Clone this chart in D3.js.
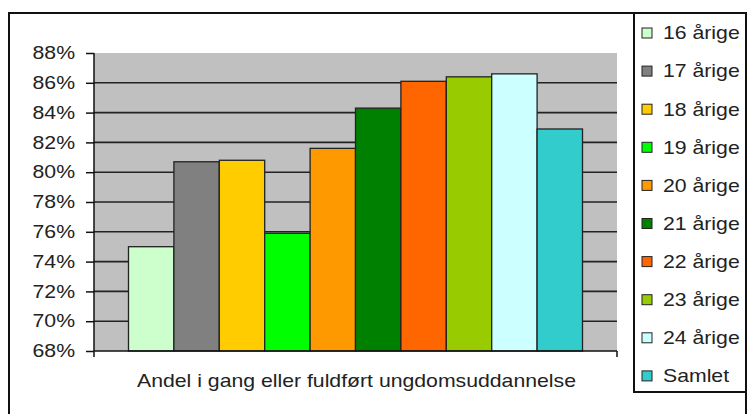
<!DOCTYPE html>
<html>
<head>
<meta charset="utf-8">
<script src="https://cdn.jsdelivr.net/npm/d3@7"></script>
<style>
  body { margin:0; background:#fff; }
  svg text { font-family: Arial, "Liberation Sans", sans-serif; fill:#222; }
</style>
</head>
<body>
<svg id="chart" width="750" height="414"></svg>
<script>
const series = ["16 årige","17 årige","18 årige","19 årige","20 årige","21 årige","22 årige","23 årige","24 årige","Samlet"];
const values = [75.0, 80.7, 80.8, 75.9, 81.6, 84.3, 86.1, 86.4, 86.6, 82.9];
const colors = ["#CCFFCC","#808080","#FFCC00","#00FF00","#FF9900","#008000","#FF6600","#99CC00","#CCFFFF","#33CCCC"];
const yTicks = [68,70,72,74,76,78,80,82,84,86,88];
const category = "Andel i gang eller fuldført ungdomsuddannelse";

const P = { left:94, right:617, top:53, bottom:351 };
const SX = 1.18; // text in the picture is a bit stretched sideways
const svg = d3.select('#chart');

// outer frame
svg.append('rect').attr('x',9).attr('y',13).attr('width',737).attr('height',410)
  .attr('fill','none').attr('stroke','#111').attr('stroke-width',2);

const y = d3.scaleLinear().domain([68,88]).range([P.bottom, P.top]);
const gap = 34.5;
const x = d3.scaleBand().domain(series).range([P.left+gap, P.right-gap]).padding(0);

// plot background
svg.append('rect').attr('x',P.left).attr('y',P.top)
  .attr('width',P.right-P.left).attr('height',P.bottom-P.top).attr('fill','#C0C0C0');

// gridlines
svg.append('g').selectAll('line').data(yTicks.slice(1,-1)).join('line')
  .attr('x1',P.left).attr('x2',P.right)
  .attr('y1',d=>y(d)).attr('y2',d=>y(d))
  .attr('stroke','#222').attr('stroke-width',1.6);

// bars
svg.append('g').selectAll('rect').data(values).join('rect')
  .attr('x',(d,i)=>x(series[i]))
  .attr('y',d=>y(d))
  .attr('width',x.bandwidth())
  .attr('height',d=>P.bottom-y(d))
  .attr('fill',(d,i)=>colors[i])
  .attr('stroke','#222').attr('stroke-width',1.3);

// y axis
const yAxis = svg.append('g').attr('transform',`translate(${P.left},0)`)
  .call(d3.axisLeft(y).tickValues(yTicks).tickSize(8).tickFormat(d=>d+'%'));
yAxis.select('.domain').attr('stroke','#111').attr('stroke-width',1.5).attr('d',`M0,${P.top}V${P.bottom+6}`);
yAxis.selectAll('.tick line').attr('stroke','#111').attr('stroke-width',1.5);
yAxis.selectAll('text').attr('font-size',18).attr('fill','#222')
  .attr('x',-19/SX).attr('transform',`scale(${SX},1)`);

// x axis
svg.append('line').attr('x1',P.left).attr('x2',P.right).attr('y1',P.bottom).attr('y2',P.bottom)
  .attr('stroke','#111').attr('stroke-width',1.5);
svg.append('line').attr('x1',P.right).attr('x2',P.right).attr('y1',P.bottom).attr('y2',P.bottom+6)
  .attr('stroke','#111').attr('stroke-width',1.5);
svg.append('g').attr('transform',`translate(${(P.left+P.right)/2 + 1},381)`)
  .append('text').attr('dy','0.35em').attr('transform',`scale(${SX},1)`)
  .attr('text-anchor','middle').attr('font-size',18).text(category);

// legend
svg.append('rect').attr('x',634).attr('y',13).attr('width',112).attr('height',379)
  .attr('fill','#fff').attr('stroke','#111').attr('stroke-width',2);
const leg = svg.append('g').selectAll('g').data(series).join('g')
  .attr('transform',(d,i)=>`translate(642,${33+i*38.1})`);
leg.append('rect').attr('x',0).attr('y',-5).attr('width',10).attr('height',10)
  .attr('fill',(d,i)=>colors[i]).attr('stroke','#222').attr('stroke-width',1);
leg.append('text').attr('x',21/SX).attr('dy','0.35em').attr('transform',`scale(${SX},1)`)
  .attr('font-size',18).text(d=>d);
</script>
</body>
</html>
